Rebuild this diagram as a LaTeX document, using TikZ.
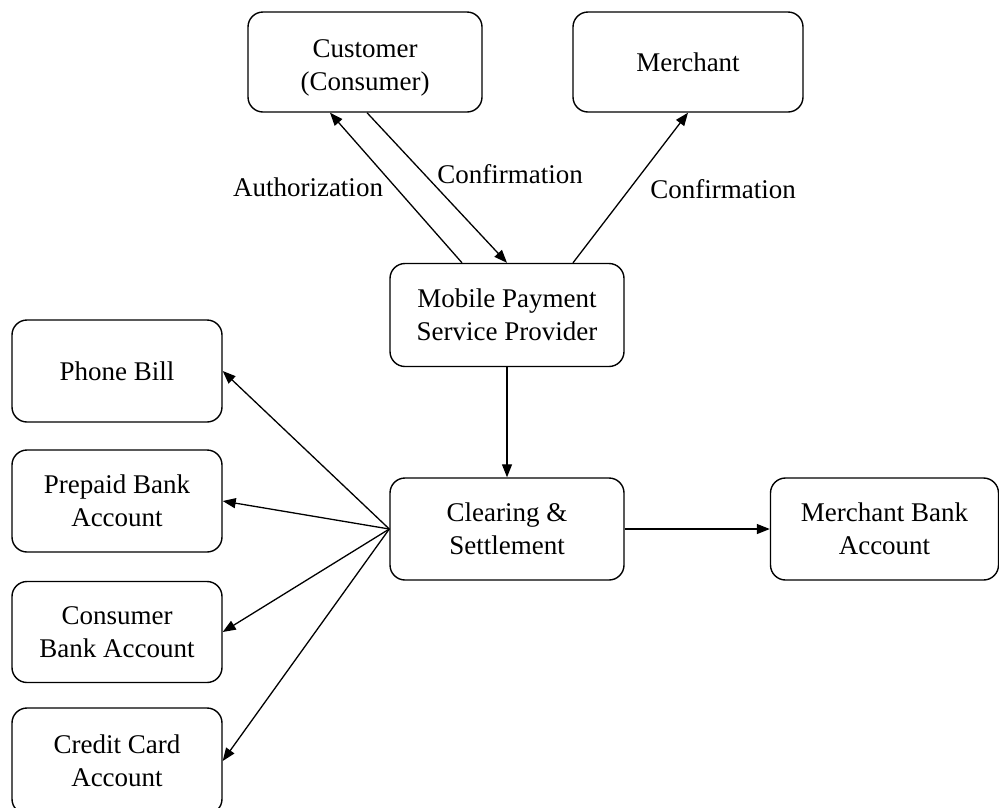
\documentclass[tikz,border=0pt]{standalone}
\usepackage{fontspec}
\setmainfont{Liberation Serif}
\usetikzlibrary{arrows.meta}
\begin{document}
\begin{tikzpicture}[x={(1pt,0)}, y={(0,-1pt)},
  box/.style={draw, line width=1.4pt, rounded corners=15pt, align=center,
    inner sep=0pt, font=\fontsize{27}{33}\selectfont},
  lbl/.style={inner sep=0pt, font=\fontsize{27}{33}\selectfont},
  flow/.style={line width=1.3pt, -{Triangle[length=13pt,width=10pt]}}]
  \useasboundingbox (0,0) rectangle (999,807);

  % participants
  \node[box, minimum width=234pt, minimum height=100pt] (cust) at (365,62) {\rule{0pt}{30pt}Customer\\(Consumer)};
  \node[box, minimum width=230pt, minimum height=100pt] (merch) at (688,62) {Merchant};
  \node[box, minimum width=234pt, minimum height=103pt] (mpsp) at (507,315) {Mobile Payment\\Service Provider};
  \node[box, minimum width=234pt, minimum height=102pt] (clear) at (507,529) {Clearing \&\\Settlement};
  \node[box, minimum width=228pt, minimum height=102pt] (mbank) at (884.5,529) {Merchant Bank\\Account};

  % funding sources (the last box runs past the lower edge)
  \node[box, minimum width=210pt, minimum height=102pt] (phone) at (117,371) {Phone Bill};
  \node[box, minimum width=210pt, minimum height=102pt] (prepaid) at (117,501) {Prepaid Bank\\Account};
  \node[box, minimum width=210pt, minimum height=101pt] (cbank) at (117,632) {Consumer\\Bank Account};
  \node[box, minimum width=210pt, minimum height=106pt] (ccard) at (117,761) {Credit Card\\Account};

  % authorization / confirmation flows
  \draw[flow] ([xshift=-45pt]mpsp.north) -- ([xshift=-35pt]cust.south);
  \draw[flow] ([xshift=2pt]cust.south) -- (mpsp.north);
  \draw[flow] ([xshift=66pt]mpsp.north) -- (merch.south);

  \node[lbl] (authlbl) at (308,187) {Authorization};
  \node[lbl] (conflbl) at (510,174) {Confirmation};
  \node[lbl] (mconflbl) at (723,189) {Confirmation};

  % settlement flows
  \draw[flow] (mpsp.south) -- (clear.north);
  \draw[flow] (clear.east) -- (mbank.west);
  \draw[flow] (clear.west) -- (phone.east);
  \draw[flow] (clear.west) -- (prepaid.east);
  \draw[flow] (clear.west) -- (cbank.east);
  \draw[flow] (clear.west) -- (ccard.east);
\end{tikzpicture}
\end{document}
